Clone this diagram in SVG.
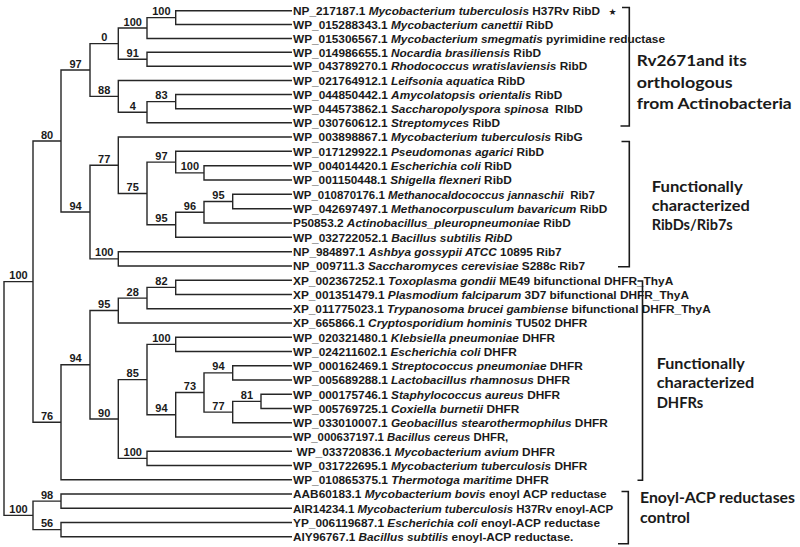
<svg xmlns="http://www.w3.org/2000/svg" width="800" height="547" viewBox="0 0 800 547">
<style>
.br{fill:none;stroke:#262626;stroke-width:1.4}
.bk{fill:none;stroke:#1a1a1a;stroke-width:1.6}
.lf{font-family:"Liberation Sans",Arial,sans-serif;font-size:11.8px;font-weight:bold;fill:#1a1a1a}
.i{font-style:italic}
.bs{font-family:"Liberation Sans",Arial,sans-serif;font-size:11px;font-weight:bold;fill:#1a1a1a;text-anchor:middle}
.gl{font-family:Lato,"Open Sans",sans-serif;font-size:16px;font-weight:bold;fill:#1a1a1a}
</style>
<rect width="800" height="547" fill="#ffffff"/>
<g id="connectors">
<path class="br" d="M292 10.7 H175.7 V24.5 H292"/>
<path class="br" d="M175.7 17.6 H147 V38.5 H292"/>
<path class="br" d="M292 52.3 H147 V66.2 H292"/>
<path class="br" d="M147 28.05 H118.3 V59.25 H147"/>
<path class="br" d="M292 94.5 H175.7 V108.8 H292"/>
<path class="br" d="M175.7 101.65 H147 V122.7 H292"/>
<path class="br" d="M292 80.5 H118.3 V112.2 H147"/>
<path class="br" d="M118.3 43.65 H90 V96.35 H118.3"/>
<path class="br" d="M292 165.7 H204 V180 H292"/>
<path class="br" d="M292 151.3 H175.7 V172.85 H204"/>
<path class="br" d="M292 194.3 H232.7 V208.7 H292"/>
<path class="br" d="M232.7 201.5 H204 V223 H292"/>
<path class="br" d="M204 212.25 H175.7 V237.3 H292"/>
<path class="br" d="M175.7 162.1 H147 V224.8 H175.7"/>
<path class="br" d="M292 137 H118.3 V193.45 H147"/>
<path class="br" d="M292 251.7 H118.3 V266 H292"/>
<path class="br" d="M118.3 165.2 H90 V258.85 H118.3"/>
<path class="br" d="M90 70 H61 V212 H90"/>
<path class="br" d="M292 280.3 H175.7 V294.5 H292"/>
<path class="br" d="M175.7 287.4 H147 V308.8 H292"/>
<path class="br" d="M147 298.1 H118.3 V323 H292"/>
<path class="br" d="M292 337.3 H175.7 V351.5 H292"/>
<path class="br" d="M292 365.8 H232.7 V380 H292"/>
<path class="br" d="M292 394.3 H261 V408.5 H292"/>
<path class="br" d="M261 401.4 H232.7 V422.8 H292"/>
<path class="br" d="M232.7 372.9 H204 V412.1 H232.7"/>
<path class="br" d="M204 392.5 H175.7 V437 H292"/>
<path class="br" d="M175.7 344.4 H147 V414.75 H175.7"/>
<path class="br" d="M292 451.3 H147 V465.5 H292"/>
<path class="br" d="M147 379.6 H118.3 V458.4 H147"/>
<path class="br" d="M118.3 310.55 H90 V419 H118.3"/>
<path class="br" d="M90 364.8 H61 V479.8 H292"/>
<path class="br" d="M61 141 H33 V422.3 H61"/>
<path class="br" d="M292 494 H61 V508.3 H292"/>
<path class="br" d="M292 522.5 H61 V536.8 H292"/>
<path class="br" d="M61 501.15 H33 V529.65 H61"/>
<path class="br" d="M33 281.65 H4 V515.4 H33"/>
</g>
<g id="bootstrap">
<text class="bs" x="161.4" y="15.1">100</text>
<text class="bs" x="132.7" y="25.6">100</text>
<text class="bs" x="104.2" y="41.2">0</text>
<text class="bs" x="132.7" y="56.8">91</text>
<text class="bs" x="75.5" y="67.5">97</text>
<text class="bs" x="104.2" y="93.9">88</text>
<text class="bs" x="132.7" y="109.7">4</text>
<text class="bs" x="161.4" y="99.2">83</text>
<text class="bs" x="47" y="138.5">80</text>
<text class="bs" x="104.2" y="162.7">77</text>
<text class="bs" x="161.4" y="159.6">97</text>
<text class="bs" x="189.9" y="170.4">100</text>
<text class="bs" x="132.7" y="191">75</text>
<text class="bs" x="189.9" y="209.8">96</text>
<text class="bs" x="218.4" y="199">95</text>
<text class="bs" x="161.4" y="222.3">95</text>
<text class="bs" x="75.5" y="209.5">94</text>
<text class="bs" x="104.2" y="256.4">100</text>
<text class="bs" x="18.5" y="279.2">100</text>
<text class="bs" x="161.4" y="284.9">82</text>
<text class="bs" x="132.7" y="295.6">28</text>
<text class="bs" x="104.2" y="308">95</text>
<text class="bs" x="161.4" y="341.9">100</text>
<text class="bs" x="218.4" y="370.4">94</text>
<text class="bs" x="132.7" y="377.1">85</text>
<text class="bs" x="189.9" y="390">73</text>
<text class="bs" x="246.9" y="398.9">81</text>
<text class="bs" x="218.4" y="409.6">77</text>
<text class="bs" x="161.4" y="412.3">94</text>
<text class="bs" x="75.5" y="362.3">94</text>
<text class="bs" x="104.2" y="416.5">90</text>
<text class="bs" x="132.7" y="455.9">100</text>
<text class="bs" x="47" y="419.8">76</text>
<text class="bs" x="47" y="498.7">98</text>
<text class="bs" x="18.5" y="512.9">100</text>
<text class="bs" x="47" y="527.2">56</text>
</g>
<g id="leaf-1"><text class="lf" x="293" y="14.9" textLength="307" lengthAdjust="spacingAndGlyphs">NP_217187.1 <tspan class="i">Mycobacterium tuberculosis</tspan> H37Rv RibD</text><text x="608.5" y="14.6" font-family="DejaVu Sans,sans-serif" font-size="9" fill="#1a1a1a">★</text></g>
<g id="leaf-2"><text class="lf" x="293" y="28.7" textLength="260.3" lengthAdjust="spacingAndGlyphs">WP_015288343.1 <tspan class="i">Mycobacterium canettii</tspan> RibD</text></g>
<g id="leaf-3"><text class="lf" x="293" y="42.7" textLength="372" lengthAdjust="spacingAndGlyphs">WP_015306567.1 <tspan class="i">Mycobacterium smegmatis</tspan> pyrimidine reductase</text></g>
<g id="leaf-4"><text class="lf" x="293" y="56.5" textLength="248" lengthAdjust="spacingAndGlyphs">WP_014986655.1 <tspan class="i">Nocardia brasiliensis</tspan> RibD</text></g>
<g id="leaf-5"><text class="lf" x="293" y="70.4" textLength="294.3" lengthAdjust="spacingAndGlyphs">WP_043789270.1 <tspan class="i">Rhodococcus wratislaviensis</tspan> RibD</text></g>
<g id="leaf-6"><text class="lf" x="293" y="84.7" textLength="232" lengthAdjust="spacingAndGlyphs">WP_021764912.1 <tspan class="i">Leifsonia aquatica</tspan> RibD</text></g>
<g id="leaf-7"><text class="lf" x="293" y="98.7" textLength="269.3" lengthAdjust="spacingAndGlyphs">WP_044850442.1 <tspan class="i">Amycolatopsis orientalis</tspan> RibD</text></g>
<g id="leaf-8"><text class="lf" x="293" y="113" textLength="289.7" lengthAdjust="spacingAndGlyphs">WP_044573862.1 <tspan class="i">Saccharopolyspora spinosa</tspan><tspan dx="6.5">RIbD</tspan></text></g>
<g id="leaf-9"><text class="lf" x="293" y="126.9" textLength="207" lengthAdjust="spacingAndGlyphs">WP_030760612.1 <tspan class="i">Streptomyces</tspan> RibD</text></g>
<g id="leaf-10"><text class="lf" x="293" y="141.2" textLength="289.7" lengthAdjust="spacingAndGlyphs">WP_003898867.1 <tspan class="i">Mycobacterium tuberculosis</tspan> RibG</text></g>
<g id="leaf-11"><text class="lf" x="293" y="155.5" textLength="251" lengthAdjust="spacingAndGlyphs">WP_017129922.1 <tspan class="i">Pseudomonas agarici</tspan> RibD</text></g>
<g id="leaf-12"><text class="lf" x="293" y="169.9" textLength="218.7" lengthAdjust="spacingAndGlyphs">WP_004014420.1 <tspan class="i">Escherichia coli</tspan> RibD</text></g>
<g id="leaf-13"><text class="lf" x="293" y="184.2" textLength="218.7" lengthAdjust="spacingAndGlyphs">WP_001150448.1 <tspan class="i">Shigella flexneri</tspan> RibD</text></g>
<g id="leaf-14"><text class="lf" x="293" y="198.5" textLength="302" lengthAdjust="spacingAndGlyphs">WP_010870176.1 <tspan class="i">Methanocaldococcus jannaschii</tspan><tspan dx="6.5">Rib7</tspan></text></g>
<g id="leaf-15"><text class="lf" x="293" y="212.9" textLength="314.3" lengthAdjust="spacingAndGlyphs">WP_042697497.1 <tspan class="i">Methanocorpusculum bavaricum</tspan> RibD</text></g>
<g id="leaf-16"><text class="lf" x="293" y="227.2" textLength="277.7" lengthAdjust="spacingAndGlyphs">P50853.2 <tspan class="i">Actinobacillus_pleuropneumoniae</tspan> RibD</text></g>
<g id="leaf-17"><text class="lf" x="293" y="241.5" textLength="219.3" lengthAdjust="spacingAndGlyphs">WP_032722052.1 <tspan class="i">Bacillus subtilis RibD</tspan></text></g>
<g id="leaf-18"><text class="lf" x="293" y="255.9" textLength="268.7" lengthAdjust="spacingAndGlyphs">NP_984897.1 <tspan class="i">Ashbya gossypii ATCC</tspan> 10895 Rib7</text></g>
<g id="leaf-19"><text class="lf" x="293" y="270.2" textLength="292" lengthAdjust="spacingAndGlyphs">NP_009711.3 <tspan class="i">Saccharomyces cerevisiae</tspan> S288c Rib7</text></g>
<g id="leaf-20"><text class="lf" x="293" y="284.5" textLength="380.3" lengthAdjust="spacingAndGlyphs">XP_002367252.1 <tspan class="i">Toxoplasma gondii</tspan> ME49 bifunctional DHFR_ThyA</text></g>
<g id="leaf-21"><text class="lf" x="293" y="298.7" textLength="396" lengthAdjust="spacingAndGlyphs">XP_001351479.1 <tspan class="i">Plasmodium falciparum</tspan> 3D7 bifunctional DHFR_ThyA</text></g>
<g id="leaf-22"><text class="lf" x="293" y="313" textLength="417.7" lengthAdjust="spacingAndGlyphs">XP_011775023.1 <tspan class="i">Trypanosoma brucei gambiense</tspan> bifunctional DHFR_ThyA</text></g>
<g id="leaf-23"><text class="lf" x="293" y="327.2" textLength="294.3" lengthAdjust="spacingAndGlyphs">XP_665866.1 <tspan class="i">Cryptosporidium hominis</tspan> TU502 DHFR</text></g>
<g id="leaf-24"><text class="lf" x="293" y="341.5" textLength="262" lengthAdjust="spacingAndGlyphs">WP_020321480.1 <tspan class="i">Klebsiella pneumoniae</tspan> DHFR</text></g>
<g id="leaf-25"><text class="lf" x="293" y="355.7" textLength="223.7" lengthAdjust="spacingAndGlyphs">WP_024211602.1 <tspan class="i">Escherichia coli</tspan> DHFR</text></g>
<g id="leaf-26"><text class="lf" x="293" y="370" textLength="289.7" lengthAdjust="spacingAndGlyphs">WP_000162469.1 <tspan class="i">Streptococcus pneumoniae</tspan> DHFR</text></g>
<g id="leaf-27"><text class="lf" x="293" y="384.2" textLength="277" lengthAdjust="spacingAndGlyphs">WP_005689288.1 <tspan class="i">Lactobacillus rhamnosus</tspan> DHFR</text></g>
<g id="leaf-28"><text class="lf" x="293" y="398.5" textLength="267" lengthAdjust="spacingAndGlyphs">WP_000175746.1 <tspan class="i">Staphylococcus aureus</tspan> DHFR</text></g>
<g id="leaf-29"><text class="lf" x="293" y="412.7" textLength="226.3" lengthAdjust="spacingAndGlyphs">WP_005769725.1 <tspan class="i">Coxiella burnetii</tspan> DHFR</text></g>
<g id="leaf-30"><text class="lf" x="293" y="427" textLength="314.7" lengthAdjust="spacingAndGlyphs">WP_033010007.1 <tspan class="i">Geobacillus stearothermophilus</tspan> DHFR</text></g>
<g id="leaf-31"><text class="lf" x="293" y="441.2" textLength="215.3" lengthAdjust="spacingAndGlyphs">WP_000637197.1 <tspan class="i">Bacillus cereus</tspan> DHFR,</text></g>
<g id="leaf-32"><text class="lf" x="296.5" y="455.5" textLength="258.5" lengthAdjust="spacingAndGlyphs">WP_033720836.1 <tspan class="i">Mycobacterium avium</tspan> DHFR</text></g>
<g id="leaf-33"><text class="lf" x="293" y="469.7" textLength="294.3" lengthAdjust="spacingAndGlyphs">WP_031722695.1 <tspan class="i">Mycobacterium tuberculosis</tspan> DHFR</text></g>
<g id="leaf-34"><text class="lf" x="293" y="484" textLength="255.7" lengthAdjust="spacingAndGlyphs">WP_010865375.1 <tspan class="i">Thermotoga maritime</tspan> DHFR</text></g>
<g id="leaf-35"><text class="lf" x="293" y="498.2" textLength="313.7" lengthAdjust="spacingAndGlyphs">AAB60183.1 <tspan class="i">Mycobacterium bovis</tspan> enoyl ACP reductase</text></g>
<g id="leaf-36"><text class="lf" x="293" y="512.5" textLength="320.3" lengthAdjust="spacingAndGlyphs">AIR14234.1 <tspan class="i">Mycobacterium tuberculosis</tspan> H37Rv enoyl-ACP</text></g>
<g id="leaf-37"><text class="lf" x="293" y="526.7" textLength="307" lengthAdjust="spacingAndGlyphs">YP_006119687.1 <tspan class="i">Escherichia coli</tspan> enoyl-ACP reductase</text></g>
<g id="leaf-38"><text class="lf" x="293" y="541" textLength="280.3" lengthAdjust="spacingAndGlyphs">AIY96767.1 <tspan class="i">Bacillus subtilis</tspan> enoyl-ACP reductase.</text></g>
<g id="group-actino">
<path class="bk" d="M622 7.5 H629.3 V126 H620.5"/>
<text class="gl" x="636.7" y="66.3" textLength="110" lengthAdjust="spacingAndGlyphs">Rv2671and its</text>
<text class="gl" x="636.7" y="87.5" textLength="96" lengthAdjust="spacingAndGlyphs">orthologous</text>
<text class="gl" x="636.7" y="109" textLength="155" lengthAdjust="spacingAndGlyphs">from Actinobacteria</text>
</g>
<g id="group-ribd">
<path class="bk" d="M621.5 141.5 H629.3 V266.7 H618"/>
<text class="gl" x="651.7" y="191.5" textLength="91" lengthAdjust="spacingAndGlyphs">Functionally</text>
<text class="gl" x="651.7" y="211.3" textLength="98" lengthAdjust="spacingAndGlyphs">characterized</text>
<text class="gl" x="651.7" y="230.3" textLength="81" lengthAdjust="spacingAndGlyphs">RibDs/Rib7s</text>
</g>
<g id="group-dhfr">
<path class="bk" d="M637.5 281 H642.5 V480.3 H637.5"/>
<text class="gl" x="656.7" y="368.8" textLength="88" lengthAdjust="spacingAndGlyphs">Functionally</text>
<text class="gl" x="656.7" y="388.4" textLength="97.6" lengthAdjust="spacingAndGlyphs">characterized</text>
<text class="gl" x="656.7" y="408.2" textLength="46.6" lengthAdjust="spacingAndGlyphs">DHFRs</text>
</g>
<g id="group-enoyl">
<path class="bk" d="M621.5 491.5 H628.3 V543.8 H618"/>
<text class="gl" x="640" y="503" textLength="155" lengthAdjust="spacingAndGlyphs">Enoyl-ACP reductases</text>
<text class="gl" x="640" y="522.5" textLength="50" lengthAdjust="spacingAndGlyphs">control</text>
</g>
</svg>
